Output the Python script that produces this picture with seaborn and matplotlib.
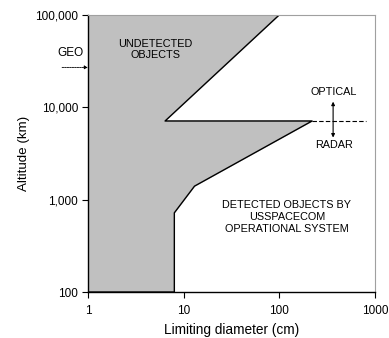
import matplotlib
matplotlib.use("Agg")
import matplotlib.pyplot as plt
import pandas as pd
import seaborn as sns

# detection boundary of the USSPACECOM system (diameter cm, altitude km)
boundary_diam = [1, 8, 8, 13, 220, 6.4, 100, 1, 1]
boundary_alt = [100, 100, 720, 1400, 7100, 7100, 100000, 100000, 100]

divide_diam = [220, 800]
divide_alt = [7100, 7100]

x_ticks = [1, 10, 100, 1000]
x_tick_labels = ["1", "10", "100", "1000"]
y_ticks = [100, 1000, 10000, 100000]
y_tick_labels = ["100", "1,000", "10,000", "100,000"]

geo_alt = 27000

sns.set_theme(style="ticks")
plt.rcParams["font.family"] = ["Liberation Sans", "DejaVu Sans"]
plt.rcParams["text.color"] = "black"
plt.rcParams["axes.labelcolor"] = "black"

fig = plt.figure(figsize=(3.89, 3.38), dpi=100)
ax = fig.add_axes([0.226, 0.136, 0.738, 0.820])

df = pd.DataFrame({"diam": boundary_diam, "alt": boundary_alt})
ax.fill(df["diam"], df["alt"], color="#c0c0c0", zorder=1)
sns.lineplot(data=df, x="diam", y="alt", sort=False, estimator=None,
             color="black", linewidth=1.0, ax=ax, zorder=2)
ax.plot(divide_diam, divide_alt, color="black", linestyle=(0, (4, 2)), linewidth=0.8)

ax.set_xscale("log")
ax.set_yscale("log")
ax.set_xlim(1, 1000)
ax.set_ylim(100, 100000)
ax.set_xticks(x_ticks)
ax.set_xticklabels(x_tick_labels)
ax.set_yticks(y_ticks)
ax.set_yticklabels(y_tick_labels)
ax.minorticks_off()
ax.tick_params(labelsize=8.5, length=4, width=0.8, colors="black", pad=3)
ax.tick_params(axis="x", pad=5)
ax.set_xlabel("Limiting diameter (cm)", fontsize=9.8, labelpad=5)
ax.set_ylabel("Altitude (km)", fontsize=9.6, labelpad=4)

for side in ["top", "right"]:
    ax.spines[side].set_color("#a0a0a0")
    ax.spines[side].set_linewidth(0.8)
for side in ["left", "bottom"]:
    ax.spines[side].set_color("black")
    ax.spines[side].set_linewidth(1.0)

ax.text(5.1, 42000, "UNDETECTED\nOBJECTS", fontsize=7.8, ha="center", va="center",
        linespacing=1.15)
ax.text(120, 650, "DETECTED OBJECTS BY\nUSSPACECOM\nOPERATIONAL SYSTEM", fontsize=7.8,
        ha="center", va="center", linespacing=1.2)
ax.text(370, 14500, "OPTICAL", fontsize=7.8, ha="center", va="center")
ax.text(370, 3900, "RADAR", fontsize=7.8, ha="center", va="center")
ax.annotate("", xy=(365, 11500), xytext=(365, 4700),
            arrowprops=dict(arrowstyle="<|-|>", color="black", lw=0.8,
                            mutation_scale=5, shrinkA=0, shrinkB=0))

# GEO marker outside the axes
ax.text(-0.06, 38600, "GEO", fontsize=8.5, ha="center", va="center",
        transform=ax.get_yaxis_transform(), clip_on=False)
ax.annotate("", xy=(0.0, geo_alt), xycoords=ax.get_yaxis_transform(),
            xytext=(-0.09, geo_alt), textcoords=ax.get_yaxis_transform(),
            arrowprops=dict(arrowstyle="-|>", color="black", lw=0.6,
                            linestyle=(0, (2, 1)), mutation_scale=5,
                            shrinkA=0, shrinkB=0))

fig.savefig("out.png", dpi=100)
